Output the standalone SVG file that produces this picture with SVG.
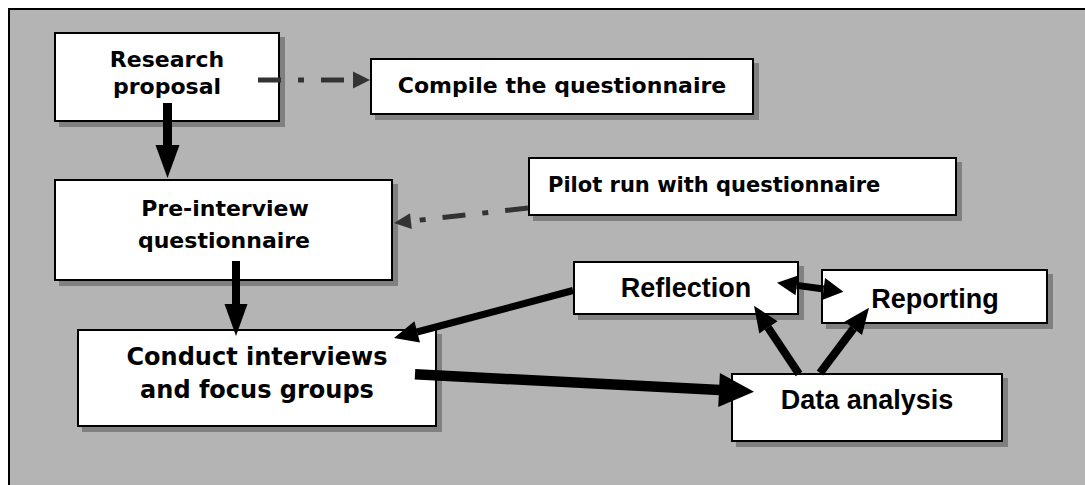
<svg xmlns="http://www.w3.org/2000/svg" width="1085" height="485" viewBox="0 0 1085 485">
<style>
.box{fill:#fff;stroke:#000;stroke-width:2}
.sh{fill:#808080}
.t{font-family:"DejaVu Sans",Verdana,sans-serif;font-weight:bold;fill:#000;text-anchor:middle}
.a{font-family:"Liberation Sans",Arial,sans-serif;font-weight:bold;fill:#000;text-anchor:middle;font-size:27px}
.dd{stroke:#333;stroke-width:5;fill:none;stroke-dasharray:23 17 6 17}
.hd{fill:#333}
.k{stroke:#000;fill:none}
.kh{fill:#000}
</style>
<rect x="0" y="0" width="1085" height="485" fill="#fff"/>
<rect x="9" y="9" width="1100" height="500" fill="#b4b4b4" stroke="#000" stroke-width="2"/>

<g id="research">
<rect class="sh" x="59" y="37" width="226" height="90"/>
<rect class="box" x="55" y="33" width="224" height="88"/>
<text class="t" font-size="22" x="167" y="67">Research</text>
<text class="t" font-size="22" x="167" y="94">proposal</text>
</g>
<g id="compile">
<rect class="sh" x="375" y="63" width="384" height="57"/>
<rect class="box" x="371" y="59" width="382" height="55"/>
<text class="t" font-size="22" x="562" y="93">Compile the questionnaire</text>
</g>
<g id="pilot">
<rect class="sh" x="533" y="162" width="429" height="59"/>
<rect class="box" x="529" y="158" width="427" height="57"/>
<text class="t" font-size="21" x="548" y="192" style="text-anchor:start">Pilot run with questionnaire</text>
</g>
<g id="preinterview">
<rect class="sh" x="59" y="184" width="339" height="102"/>
<rect class="box" x="55" y="180" width="337" height="100"/>
<text class="t" font-size="22" x="225" y="216">Pre-interview</text>
<text class="t" font-size="22" x="224" y="248">questionnaire</text>
</g>
<g id="conduct">
<rect class="sh" x="82" y="334" width="360" height="98"/>
<rect class="box" x="78" y="330" width="358" height="96"/>
<text class="t" font-size="24" x="257" y="365">Conduct interviews</text>
<text class="t" font-size="24" x="257" y="398">and focus groups</text>
</g>
<g id="reflection">
<rect class="sh" x="578" y="266" width="226" height="54"/>
<rect class="box" x="574" y="262" width="224" height="52"/>
<text class="a" x="686" y="297">Reflection</text>
</g>
<g id="reporting">
<rect class="sh" x="826" y="274" width="227" height="55"/>
<rect class="box" x="822" y="270" width="225" height="53"/>
<text class="a" x="935" y="308">Reporting</text>
</g>
<g id="dataanalysis">
<rect class="sh" x="736" y="378" width="272" height="69"/>
<rect class="box" x="732" y="374" width="270" height="67"/>
<text class="a" x="867" y="409">Data analysis</text>
</g>

<g id="connectors">
<line class="dd" x1="258" y1="80" x2="353" y2="80"/>
<polygon class="hd" points="353,71.5 370,80 353,88.5"/>
<line class="dd" x1="528" y1="208" x2="410.9" y2="221.1"/>
<polygon class="hd" points="410,213.2 394,223 411.8,229"/>

<line class="k" x1="167.5" y1="103" x2="167.5" y2="146" stroke-width="9"/>
<polygon class="kh" points="155.5,145 179.5,145 167.5,178"/>
<line class="k" x1="236" y1="261" x2="236" y2="305" stroke-width="8"/>
<polygon class="kh" points="224.5,304 247.5,304 236,336"/>

<line class="k" x1="573" y1="290.5" x2="417" y2="332" stroke-width="7"/>
<polygon class="kh" points="414.4,321.2 394,338 420,342.5"/>

<line class="k" x1="415" y1="374.3" x2="720" y2="389.9" stroke-width="10.5"/>
<polygon class="kh" points="719.9,372.9 754,391.7 718.2,406.9"/>

<line class="k" x1="799" y1="374" x2="768" y2="327.5" stroke-width="8"/>
<polygon class="kh" points="777.6,321.2 754,305.7 759.3,333.4"/>

<line class="k" x1="820" y1="373" x2="853.5" y2="328.5" stroke-width="8"/>
<polygon class="kh" points="844.5,321.7 869,307.7 862,335"/>

<line class="k" x1="796.8" y1="285.4" x2="823.6" y2="289" stroke-width="7"/>
<polygon class="kh" points="798.1,275.5 777,282.7 795.5,295.3"/>
<polygon class="kh" points="825.1,278.1 843.4,291.7 822.1,299.9"/>
</g>
</svg>
